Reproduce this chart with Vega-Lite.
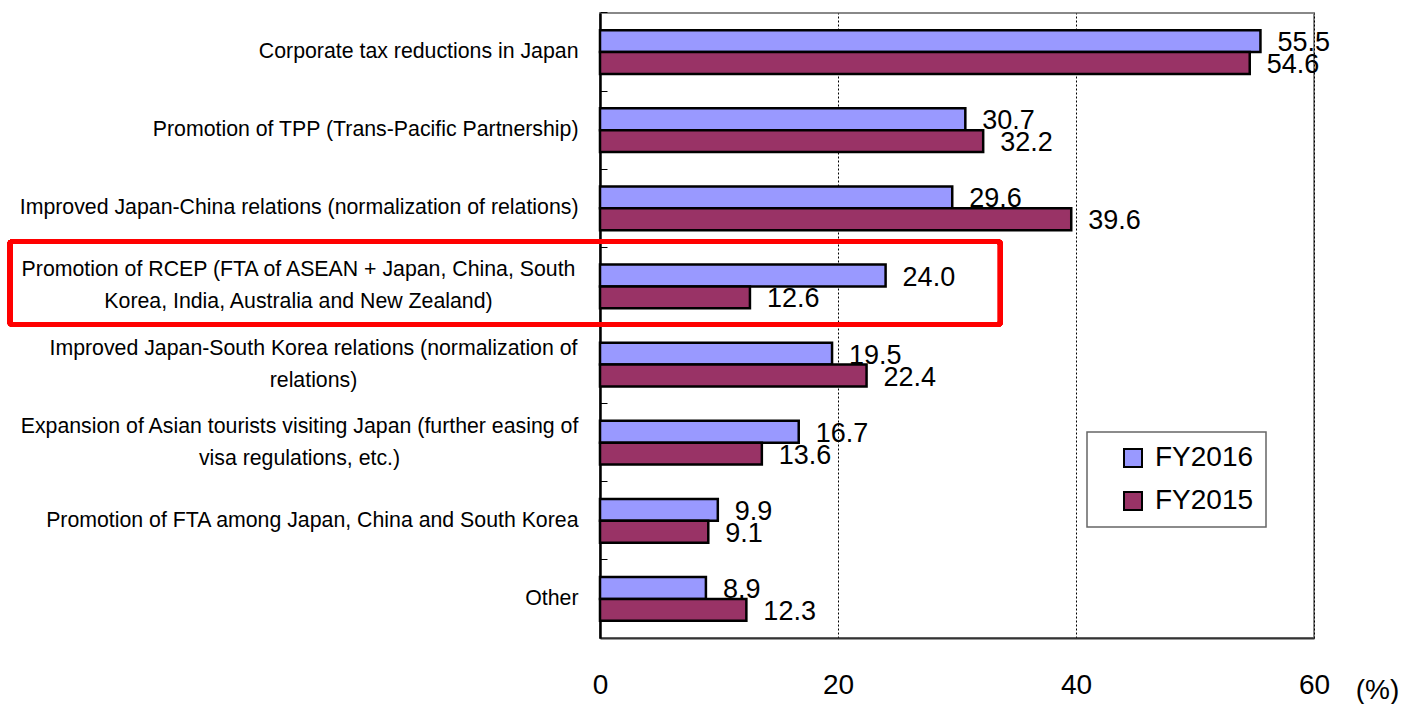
{
  "$schema": "https://vega.github.io/schema/vega-lite/v6.json",
  "width": 714,
  "height": 625,
  "autosize": {"type": "none"},
  "padding": {"left": 600, "top": 13, "right": 90, "bottom": 66},
  "background": "white",
  "config": {
    "font": "Liberation Sans",
    "view": {"stroke": "#888888", "strokeWidth": 2},
    "legend": {"strokeWidth": 1.5}
  },
  "data": {
    "values": [
      {"cat": "Corporate tax reductions in Japan", "year": "FY2016", "value": 55.5},
      {"cat": "Corporate tax reductions in Japan", "year": "FY2015", "value": 54.6},
      {"cat": "Promotion of TPP (Trans-Pacific Partnership)", "year": "FY2016", "value": 30.7},
      {"cat": "Promotion of TPP (Trans-Pacific Partnership)", "year": "FY2015", "value": 32.2},
      {"cat": "Improved Japan-China relations (normalization of relations)", "year": "FY2016", "value": 29.6},
      {"cat": "Improved Japan-China relations (normalization of relations)", "year": "FY2015", "value": 39.6},
      {"cat": "Promotion of RCEP (FTA of ASEAN + Japan, China, South|Korea, India, Australia and New Zealand)", "year": "FY2016", "value": 24.0},
      {"cat": "Promotion of RCEP (FTA of ASEAN + Japan, China, South|Korea, India, Australia and New Zealand)", "year": "FY2015", "value": 12.6},
      {"cat": "Improved Japan-South Korea relations (normalization of|relations)", "year": "FY2016", "value": 19.5},
      {"cat": "Improved Japan-South Korea relations (normalization of|relations)", "year": "FY2015", "value": 22.4},
      {"cat": "Expansion of Asian tourists visiting Japan (further easing of|visa regulations, etc.)", "year": "FY2016", "value": 16.7},
      {"cat": "Expansion of Asian tourists visiting Japan (further easing of|visa regulations, etc.)", "year": "FY2015", "value": 13.6},
      {"cat": "Promotion of FTA among Japan, China and South Korea", "year": "FY2016", "value": 9.9},
      {"cat": "Promotion of FTA among Japan, China and South Korea", "year": "FY2015", "value": 9.1},
      {"cat": "Other", "year": "FY2016", "value": 8.9},
      {"cat": "Other", "year": "FY2015", "value": 12.3}
    ]
  },
  "encoding": {
    "y": {
      "field": "cat",
      "type": "nominal",
      "sort": null,
      "scale": {"paddingInner": 0.44, "paddingOuter": 0.22},
      "axis": {
        "title": null,
        "ticks": true,
        "bandPosition": -0.393,
        "tickSize": -7,
        "tickColor": "#000000",
        "tickWidth": 1,
        "domain": true,
        "domainColor": "#000000",
        "domainWidth": 2.5,
        "labelFontSize": 21.3,
        "labelColor": "#000000",
        "labelLimit": 700,
        "labelLineHeight": 32,
        "labelBaseline": "middle",
        "labelExpr": "split(datum.label, '|')",
        "labelAlign": {
          "condition": {"test": "indexof(datum.value, '|') >= 0", "value": "center"},
          "value": "right"
        },
        "labelOffset": {
          "condition": {"test": "indexof(datum.value, '|') >= 0", "value": -16},
          "value": 0
        },
        "labelPadding": {
          "condition": [
            {"test": "indexof(datum.value, 'RCEP') >= 0", "value": 309},
            {"test": "indexof(datum.value, 'South Korea relations') >= 0", "value": 294},
            {"test": "indexof(datum.value, 'Asian tourists') >= 0", "value": 308}
          ],
          "value": 29
        }
      }
    },
    "x": {
      "field": "value",
      "type": "quantitative",
      "scale": {"domain": [0, 60], "nice": false, "zero": true},
      "axis": {
        "values": [0, 20, 40, 60],
        "ticks": false,
        "grid": true,
        "gridColor": "#000000",
        "gridDash": [2, 2],
        "gridWidth": 1,
        "domainColor": "#333333",
        "domainWidth": 2,
        "labelFontSize": 28,
        "labelColor": "#000000",
        "labelBaseline": "middle",
        "labelPadding": 47,
        "labelFlush": false,
        "title": "(%)",
        "titleFontSize": 28,
        "titleFontWeight": "normal",
        "titleColor": "#000000",
        "titleX": 777,
        "titleY": 52,
        "titleAlign": "center",
        "titleBaseline": "middle"
      }
    }
  },
  "layer": [
    {
      "mark": {"type": "bar", "stroke": "#000000", "strokeWidth": 2.5, "opacity": 1},
      "encoding": {
        "yOffset": {"field": "year", "type": "nominal", "scale": {"domain": ["FY2016", "FY2015"]}},
        "color": {
          "field": "year",
          "type": "nominal",
          "scale": {"domain": ["FY2016", "FY2015"], "range": ["#9999FF", "#993366"]},
          "legend": {
            "title": null,
            "orient": "none",
            "legendX": 487,
            "legendY": 419,
            "padding": 12,
            "strokeColor": "#666666",
            "fillColor": "white",
            "symbolType": "square",
            "symbolSize": 324,
            "symbolStrokeColor": "#000000",
            "symbolStrokeWidth": 2,
            "symbolOpacity": 1,
            "symbolOffset": 20,
            "labelOffset": 8,
            "labelFontSize": 28,
            "labelColor": "#000000",
            "rowPadding": 15
          }
        }
      }
    },
    {
      "mark": {"type": "text", "align": "left", "baseline": "middle", "dx": 17, "dy": 2, "fontSize": 27, "color": "#000000"},
      "encoding": {
        "yOffset": {"field": "year", "type": "nominal", "scale": {"domain": ["FY2016", "FY2015"]}},
        "text": {"field": "value", "type": "quantitative", "format": ".1f"}
      }
    },
    {
      "mark": {"type": "bar", "fill": null, "fillOpacity": 0, "stroke": "#FF0000", "strokeWidth": 5, "cornerRadius": 3, "height": {"band": 1.9}, "yOffset": -3.5, "clip": false},
      "encoding": {
        "y": {"datum": "Promotion of RCEP (FTA of ASEAN + Japan, China, South|Korea, India, Australia and New Zealand)", "type": "nominal"},
        "x": {"datum": -49.6, "type": "quantitative"},
        "x2": {"datum": 33.65}
      }
    }
  ]
}
